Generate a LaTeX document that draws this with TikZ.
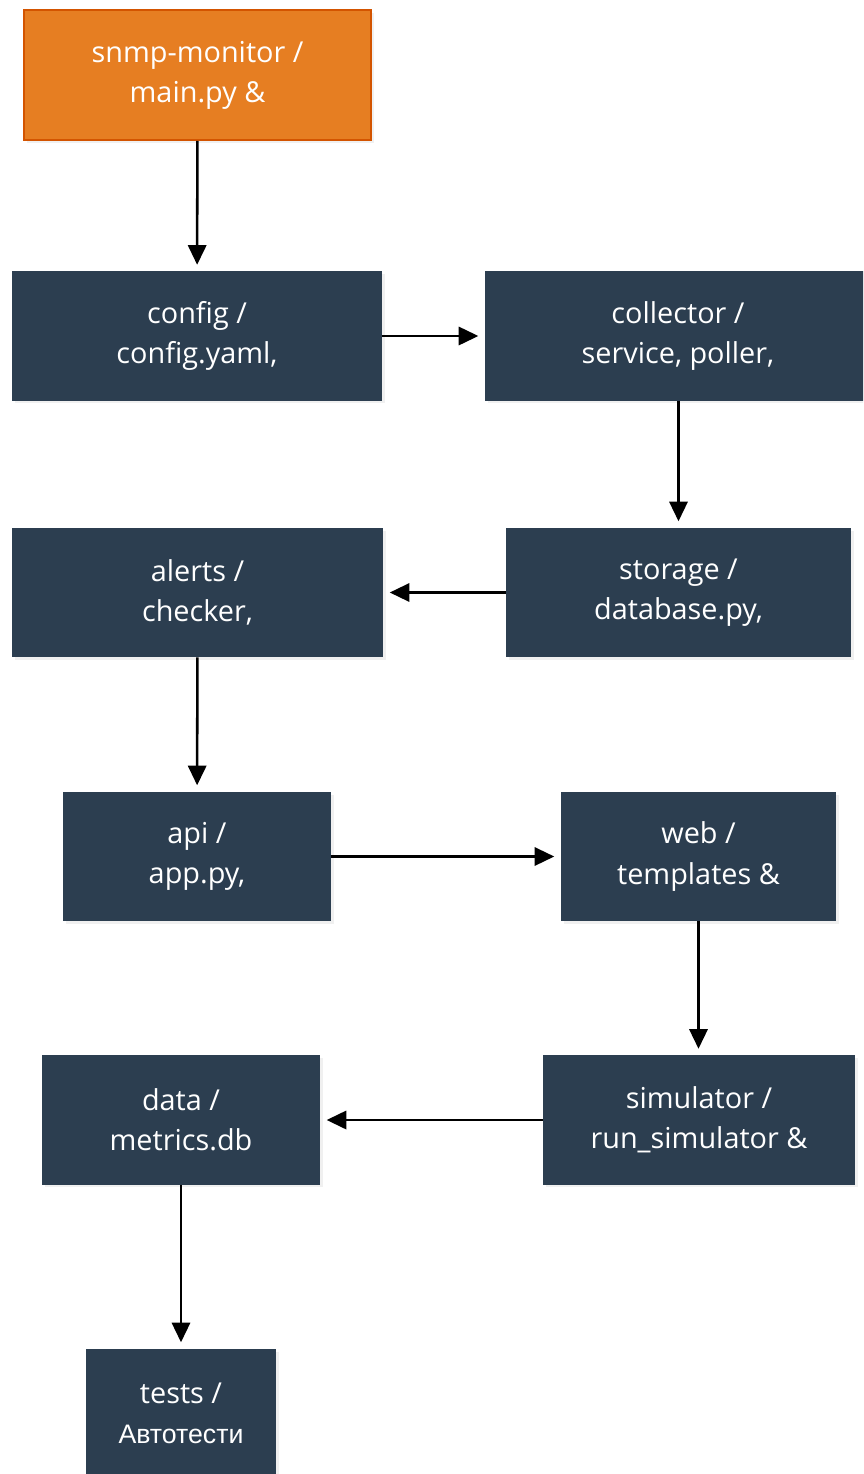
\documentclass[tikz,border=0pt]{standalone}
\usepackage{fontspec}
\setmainfont{Open Sans}
\newfontfamily\cyrfont{Liberation Sans}
\usepackage{tikz}
\usetikzlibrary{arrows.meta,shadows,positioning}
\definecolor{boxblue}{HTML}{2C3E50}
\definecolor{boxorange}{HTML}{E67E22}
\definecolor{edgeorange}{HTML}{D35400}
\tikzset{mod/.style={rectangle, fill=boxblue, text=white, align=center, inner sep=0pt,
  font=\fontsize{20.5}{28.5}\selectfont, minimum height=3.23cm,
  drop shadow={opacity=0.12, shadow xshift=2pt, shadow yshift=-2pt}}}
\tikzstyle{root}=[mod, fill=boxorange, draw=edgeorange, line width=1.2pt]
\tikzstyle{flow}=[-{Triangle[length=14pt,width=13pt]}, line width=1.8pt, black, shorten >=4.5pt]

\begin{document}
\begin{tikzpicture}[x=0.025cm, y=-0.025cm]
\useasboundingbox (0,0) rectangle (863,1474);
\clip (0,0) rectangle (863,1474);
\node[root, minimum width=8.68cm, minimum height=3.25cm] (main) at (197.5,75) {snmp-monitor /\\main.py \&};
\node[mod, minimum width=9.25cm] (config) at (197,336) {config /\\config.yaml,};
\node[mod, minimum width=9.65cm] (collector) at (678,336) {collector /\\service, poller,};
\node[mod, minimum width=8.63cm] (storage) at (678.5,592.5) {storage /\\database.py,};
\node[mod, minimum width=9.28cm] (alerts) at (197.5,592.5) {alerts /\\checker,};
\node[mod, minimum width=6.7cm] (api) at (197,856.5) {api /\\app.py,};
\node[mod, minimum width=6.88cm] (web) at (698.5,856.5) {web /\\templates \&};
\node[mod, minimum width=7.8cm] (sim) at (699,1120) {simulator /\\run\_simulator \&};
\node[mod, minimum width=6.95cm] (data) at (181,1120) {data /\\metrics.db};
\node[mod, minimum width=4.75cm] (tests) at (181,1413.5) {tests /\\{\cyrfont\fontsize{19}{28.5}\selectfont Автотести}};

\path[flow] (main) edge (config)
(config) edge (collector)
(collector.south -| storage.north) edge (storage)
(storage) edge (alerts)
(alerts) edge (api)
(api) edge (web)
(web) edge (web |- sim.north)
(sim) edge (data)
(data) edge (tests)
;
\end{tikzpicture}
\end{document}
